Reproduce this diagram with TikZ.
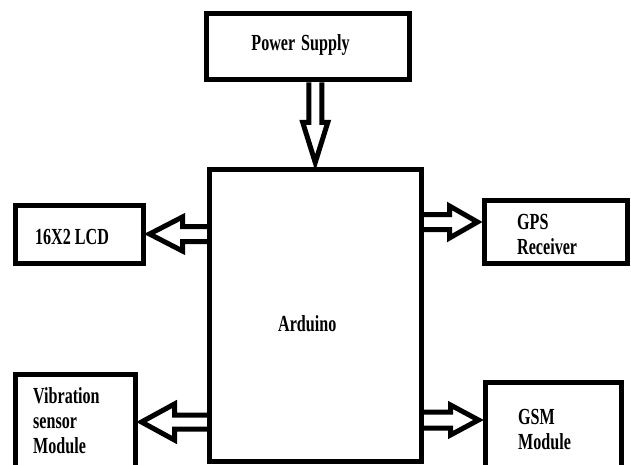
\documentclass[tikz,border=0pt]{standalone}
\usepackage{fontspec}
\usetikzlibrary{calc}
\newfontfamily\blockfont{Liberation Serif}[FakeStretch=0.70]

% hollow block arrow: tail, tip, shaft half width, head half width, head length
\newcommand{\blockarrow}[5]{%
  \coordinate (hb) at ($(#2)!#5!(#1)$);
  \draw[barrow] ($(#1)!#3!90:(#2)$) -- ($(hb)!#3!90:(#2)$) -- ($(hb)!#4!90:(#2)$) -- (#2)
    -- ($(hb)!#4!-90:(#2)$) -- ($(hb)!#3!-90:(#2)$) -- ($(#1)!#3!-90:(#2)$);
}

\begin{document}
\begin{tikzpicture}[%
      x=1pt, y=-1pt,
      box/.style={draw, line width=5pt, inner sep=0pt},
      lbl/.style={inner sep=0pt, align=left,
        font=\blockfont\bfseries\fontsize{23}{25}\selectfont},
      barrow/.style={draw, line width=5pt, line join=miter},
      ]
      \useasboundingbox (0,0) rectangle (631,465);
      \clip (0,0) rectangle (631,465);

      % blocks
      \node [box, minimum width=203pt, minimum height=66pt] (ps) at (307.5,47) {};
      \node [box, minimum width=211.5pt, minimum height=291pt] (ard) at (315.25,315.5) {};
      \node [box, minimum width=128pt, minimum height=58pt] (lcd) at (79,234) {};
      \node [box, minimum width=143.5pt, minimum height=63pt] (gps) at (555.75,231.5) {};
      \node [box, minimum width=120pt, minimum height=130pt, anchor=north west] (vib) at (12.5,371.5) {};
      \node [box, minimum width=136pt, minimum height=130pt, anchor=north west] (gsm) at (482.5,379.5) {};

      % block texts
      \node [lbl] (pstxt) at ($(ps.center)+(-7,-2)$) {Power\hspace{6pt}Supply};
      \node [lbl] (ardtxt) at ($(ard.center)+(-8,8)$) {Arduino};
      \node [lbl] (lcdtxt) at ($(lcd.center)+(-7,3)$) {16X2 LCD};
      \node [lbl, anchor=north west] (gpstxt) at ($(gps.north west)+(35.5,16.5)$) {GPS\\Receiver};
      \node [lbl, anchor=north west] (vibtxt) at ($(vib.north west)+(20.5,15.5)$) {Vibration\\sensor\\Module};
      \node [lbl, anchor=north west] (gsmtxt) at ($(gsm.north west)+(35.5,29.5)$) {GSM\\Module};

      % arrows
      \coordinate (psin) at ($(ard.north)+(0,-5)$);
      \coordinate (pstail) at (ard.north |- ps.south);
      \blockarrow{pstail}{psin}{6.5pt}{12.5pt}{40pt}

      \coordinate (lcdin) at ($(lcd.east)+(4,0)$);
      \coordinate (lcdtail) at (ard.west |- lcdin);
      \blockarrow{lcdtail}{lcdin}{7.5pt}{17pt}{33pt}

      \coordinate (gpsin) at ($(gps.west)+(-4,-9.5)$);
      \coordinate (gpstail) at (ard.east |- gpsin);
      \blockarrow{gpstail}{gpsin}{7.5pt}{16pt}{28pt}

      \coordinate (vibin) at ($(vib.north east)+(4,50.5)$);
      \coordinate (vibtail) at (ard.west |- vibin);
      \blockarrow{vibtail}{vibin}{7pt}{18pt}{33pt}

      \coordinate (gsmin) at ($(gsm.north west)+(-4,40.5)$);
      \coordinate (gsmtail) at (ard.east |- gsmin);
      \blockarrow{gsmtail}{gsmin}{8pt}{15pt}{28pt}
\end{tikzpicture}
\end{document}
